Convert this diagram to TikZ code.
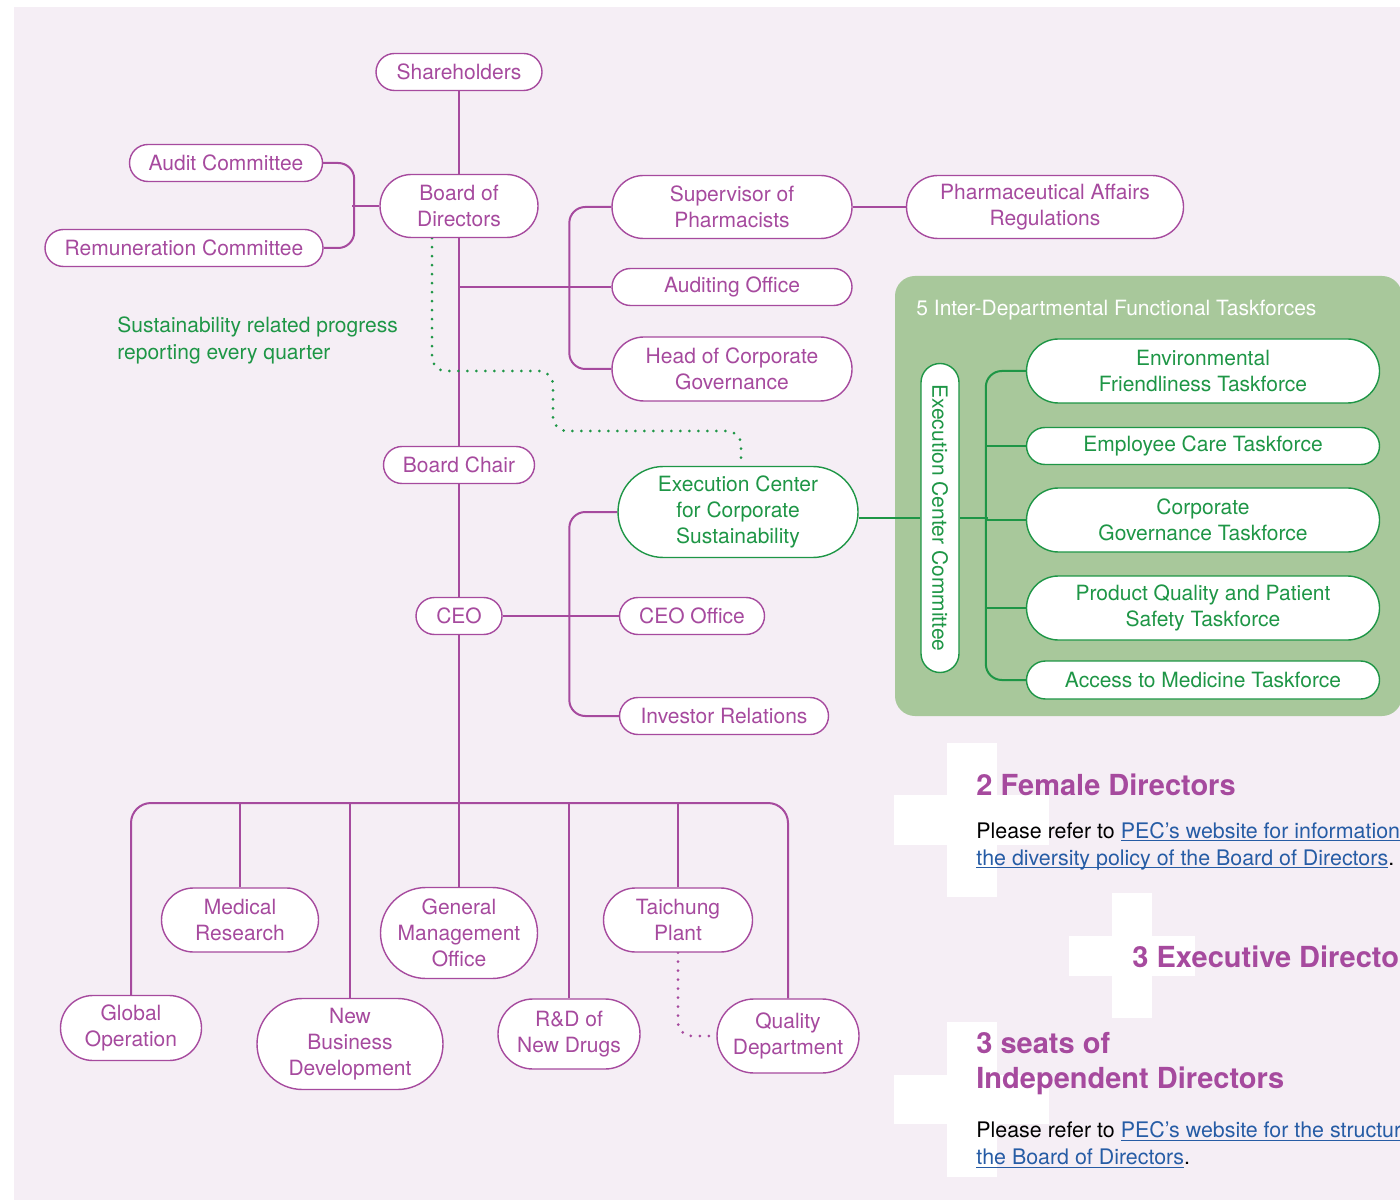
\documentclass[tikz,border=0pt]{standalone}
\usepackage{fontspec}
\setmainfont{TeX Gyre Heros}
\usetikzlibrary{shapes.misc,positioning,calc}
\definecolor{bgpink}{RGB}{245,238,245}
\definecolor{orgpurple}{RGB}{166,74,158}
\definecolor{orggreen}{RGB}{30,150,70}
\definecolor{panelgreen}{RGB}{168,200,155}
\definecolor{linkblue}{RGB}{38,92,165}
\pgfdeclarelayer{back}
\pgfdeclarelayer{lines}
\pgfsetlayers{back,lines,main}
\newcommand{\weblink}[1]{{\color{linkblue}\setbox0\hbox{#1}\rlap{\rule[-1.6pt]{\wd0}{0.55pt}}\box0}}

\begin{document}
\begin{tikzpicture}[x=0.5pt,y=-0.5pt]

	\tikzset{
	box/.style={rounded rectangle, draw=orgpurple, line width=0.7pt, fill=white, text=orgpurple,
		align=center, inner sep=2pt, font=\fontsize{10.5}{13}\selectfont},
	gbox/.style={box, draw=orggreen, text=orggreen},
	link/.style={draw=orgpurple, line width=1pt, rounded corners=8pt},
	glink/.style={link, draw=orggreen},
	dots/.style={line width=1.5pt, line cap=round, dash pattern=on 0pt off 4.5pt, rounded corners=7pt},
	heading/.style={anchor=west, inner sep=0pt, text=orgpurple, align=left,
		font=\fontsize{14.5}{17.5}\selectfont\bfseries},
	note/.style={anchor=west, inner sep=0pt, align=left, font=\fontsize{10.7}{13.5}\selectfont}
}

\clip (0,0) rectangle (1400,1202);

\begin{pgfonlayer}{back}
\fill[white] (0,0) rectangle (1400,1202);
\fill[bgpink] (14,7) rectangle (1400,1200);
\fill[panelgreen, rounded corners=10pt] (895,276) rectangle (1402,716);
% white crosses behind the figures
\fill[white] (947,743) rectangle (997,897);
\fill[white] (894,795) rectangle (1049,845);
\fill[white] (1112,893) rectangle (1152,1018);
\fill[white] (1069,936) rectangle (1195,976);
\fill[white] (947,1022) rectangle (997,1177);
\fill[white] (894,1075) rectangle (1049,1124);
\end{pgfonlayer}

% board level
\node[box, minimum width=87pt, minimum height=18.5pt] (sh) at (459,72) {Shareholders};
\node[box, minimum width=83pt, minimum height=31.5pt] (bod) at (459,206) {Board of\\Directors};
\node[box, minimum width=100.5pt, minimum height=18.5pt] (ac) at (226,163) {Audit Committee};
\node[box, minimum width=143pt, minimum height=18.5pt] (rc) at (184,248) {Remuneration Committee};
\node[box, minimum width=124pt, minimum height=31.5pt] (sup) at (732,207) {Supervisor of\\Pharmacists};
\node[box, minimum width=142.5pt, minimum height=31.5pt] (par) at (1045,207) {Pharmaceutical Affairs\\Regulations};
\node[box, minimum width=124pt, minimum height=18.5pt] (ao) at (732,287) {Auditing Office};
\node[box, minimum width=124pt, minimum height=32pt] (hcg) at (732,369) {Head of Corporate\\Governance};
\node[box, minimum width=79.5pt, minimum height=18.5pt] (bc) at (459,465) {Board Chair};

% management level
\node[gbox, minimum width=124pt, minimum height=45.5pt] (ecs) at (738,512) {Execution Center\\for Corporate\\Sustainability};
\node[box, minimum width=47pt, minimum height=18.5pt] (ceo) at (459,616) {CEO};
\node[box, minimum width=76.5pt, minimum height=18.5pt] (co) at (692,616) {CEO Office};
\node[box, minimum width=108.5pt, minimum height=18.5pt] (ir) at (724,716) {Investor Relations};

% taskforces
\node[anchor=west, inner sep=0pt, text=white, font=\fontsize{10.5}{13}\selectfont] (ptitle) at (916,310) {5 Inter-Departmental Functional Taskforces};
\node[gbox, rotate=-90, minimum width=158.5pt, minimum height=19pt] (com) at (940,518) {Execution Center Committee};
\node[gbox, minimum width=180.5pt, minimum height=32pt] (env) at (1203,371) {Environmental\\Friendliness Taskforce};
\node[gbox, minimum width=180.5pt, minimum height=18.5pt] (ect) at (1203,446) {Employee Care Taskforce};
\node[gbox, minimum width=180.5pt, minimum height=32pt] (cgt) at (1203,520) {Corporate\\Governance Taskforce};
\node[gbox, minimum width=180.5pt, minimum height=32pt] (pqt) at (1203,608) {Product Quality and Patient\\Safety Taskforce};
\node[gbox, minimum width=180.5pt, minimum height=19pt] (atm) at (1203,680) {Access to Medicine Taskforce};

% departments
\coordinate (bar) at (459,803);
\node[box, minimum width=82.5pt, minimum height=32pt] (mr) at (240,920) {Medical\\Research};
\node[box, minimum width=82.5pt, minimum height=45.5pt] (gmo) at (459,933) {General\\Management\\Office};
\node[box, minimum width=78.5pt, minimum height=32pt] (tp) at (678,920) {Taichung\\Plant};
\node[box, minimum width=74.5pt, minimum height=32.5pt] (go) at (131,1028) {Global\\Operation};
\node[box, minimum width=97pt, minimum height=45.5pt] (nbd) at (350,1044) {New\\Business\\Development};
\node[box, minimum width=75pt, minimum height=35pt] (rd) at (569,1034) {R\&D of\\New Drugs};
\node[box, minimum width=75pt, minimum height=37pt] (qd) at (788,1036) {Quality\\Department};

\node[anchor=west, inner sep=0pt, align=left, text=orggreen, font=\fontsize{10.5}{13.5}\selectfont] (srp) at (117,340) {Sustainability related progress\\reporting every quarter};

% figures
\node[heading] (fd) at (976,785) {2 Female Directors};
\node[note] (fdn) at (976,846) {Please refer to \weblink{PEC’s website for information}\\\weblink{the diversity policy of the Board of Directors}.};
\node[heading] (ed) at (1132,957) {3 Executive Directo};
\node[heading] (idr) at (976,1064) {3 seats of\\Independent Directors};
\node[note] (idn) at (976,1145) {Please refer to \weblink{PEC’s website for the structur}\\\weblink{the Board of Directors}.};

\begin{pgfonlayer}{lines}
\draw[link] (sh.south) -- (gmo.north);
\draw[link] (ac.east) -- ++(31,0) |- (rc.east);
\draw[link] (bod.west) -- ++(-27,0);
\draw[link] (sup.west) -- ++(-42,0) |- (hcg.west);
\draw[link] (bod.south |- ao.west) -- (ao.west);
\draw[link] (sup.east) -- (par.west);
\draw[link] (ecs.west) -- ++(-48,0) |- (ir.west);
\draw[link] (ceo.east) -- (co.west);
% taskforce bracket
\draw[glink] (com.south -| ecs.east) -- (com.south);
\draw[glink] (com.north) -- ++(28,0);
\draw[glink] (env.west) -- ++(-40,0) |- (atm.west);
\draw[glink] (ect.west) -- ++(-40,0);
\draw[glink] (cgt.west) -- ++(-40,0);
\draw[glink] (pqt.west) -- ++(-40,0);
% department bar
\draw[link, rounded corners=10pt] (go.north) |- (bar) -| (qd.north);
\draw[link] (mr.north) -- (mr.north |- bar);
\draw[link] (nbd.north) -- (nbd.north |- bar);
\draw[link] (rd.north) -- (rd.north |- bar);
\draw[link] (tp.north) -- (tp.north |- bar);
% dotted reporting lines
\draw[dots, orggreen] ([xshift=-13.5pt]bod.south) |- (553,371) |- (741,431) -- ([xshift=1.5pt]ecs.north);
\draw[dots, orgpurple] (tp.south) |- (qd.west);
\end{pgfonlayer}

\end{tikzpicture}
\end{document}
